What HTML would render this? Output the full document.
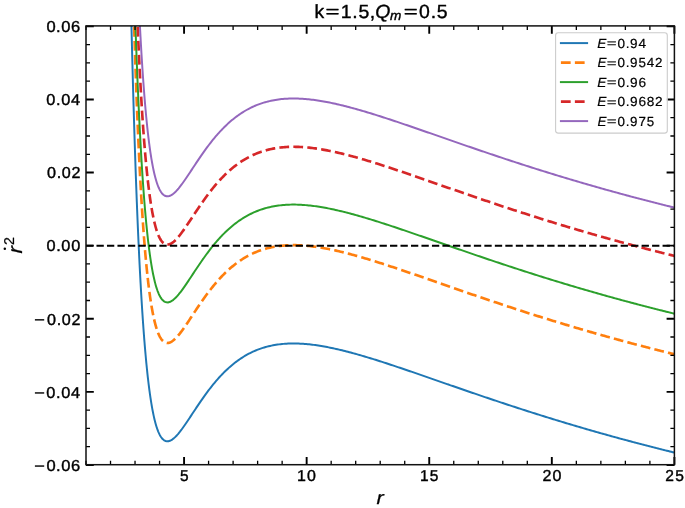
<!DOCTYPE html>
<html><head><meta charset="utf-8"><title>k=1.5, Q_m=0.5</title><style>
html,body{margin:0;padding:0;background:#fff;overflow:hidden;}
svg{display:block;will-change:transform;}
text{font-family:"Liberation Sans",sans-serif;fill:#000;stroke:#000;stroke-width:0.4px;stroke-linejoin:round;font-kerning:none;text-rendering:geometricPrecision;}
</style></head><body>
<svg width="685" height="508" viewBox="0 0 685 508">
<rect x="0" y="0" width="685" height="508" fill="#fff"/>
<defs><clipPath id="ax"><rect x="86.0" y="25.9" width="588.40" height="438.80"/></clipPath></defs>

<g clip-path="url(#ax)" fill="none" stroke-linejoin="round">
<path d="M130.82,-1.00 L130.86,0.51 L130.91,2.90 L130.97,5.28 L131.02,7.65 L131.08,10.01 L131.13,12.36 L131.19,14.69 L131.24,17.01 L131.30,19.33 L131.35,21.63 L131.41,23.92 L131.46,26.19 L131.52,28.46 L131.57,30.72 L131.63,32.96 L131.68,35.19 L131.74,37.42 L131.79,39.63 L131.85,41.83 L131.90,44.02 L131.96,46.20 L132.01,48.36 L132.06,50.52 L132.12,52.67 L132.17,54.81 L132.23,56.93 L132.28,59.05 L132.34,61.15 L132.39,63.25 L132.45,65.33 L132.50,67.40 L132.56,69.47 L132.61,71.52 L132.67,73.57 L132.72,75.60 L132.78,77.62 L132.83,79.64 L132.89,81.64 L132.94,83.63 L133.00,85.62 L133.05,87.59 L133.11,89.55 L133.16,91.51 L133.22,93.45 L133.27,95.39 L133.33,97.31 L133.38,99.23 L133.44,101.14 L133.49,103.03 L133.55,104.92 L133.60,106.80 L133.66,108.67 L133.71,110.53 L133.77,112.38 L133.82,114.22 L133.88,116.06 L133.93,117.88 L133.99,119.69 L134.04,121.50 L134.10,123.30 L134.15,125.08 L134.21,126.86 L134.26,128.63 L134.32,130.40 L134.37,132.15 L134.43,133.89 L134.48,135.63 L134.54,137.35 L134.59,139.07 L134.65,140.78 L134.70,142.48 L134.76,144.18 L134.81,145.86 L134.87,147.54 L134.92,149.21 L134.98,150.87 L135.03,152.52 L135.09,154.16 L135.14,155.80 L135.20,157.42 L135.25,159.04 L135.31,160.65 L135.36,162.25 L135.42,163.85 L135.47,165.44 L135.52,167.02 L135.58,168.59 L135.63,170.15 L135.69,171.71 L135.74,173.25 L135.80,174.79 L135.85,176.33 L135.91,177.85 L135.96,179.37 L136.02,180.88 L136.07,182.38 L136.16,184.62 L136.24,186.84 L136.32,189.05 L136.40,191.24 L136.49,193.41 L136.57,195.57 L136.65,197.71 L136.73,199.84 L136.82,201.95 L136.90,204.04 L136.98,206.12 L137.06,208.18 L137.15,210.23 L137.23,212.26 L137.31,214.27 L137.39,216.27 L137.47,218.26 L137.56,220.23 L137.64,222.19 L137.72,224.13 L137.80,226.06 L137.89,227.97 L137.97,229.87 L138.05,231.75 L138.13,233.62 L138.22,235.48 L138.30,237.32 L138.38,239.14 L138.46,240.96 L138.55,242.76 L138.63,244.55 L138.71,246.32 L138.79,248.08 L138.88,249.82 L138.96,251.56 L139.04,253.28 L139.12,254.98 L139.20,256.68 L139.29,258.36 L139.37,260.03 L139.45,261.68 L139.53,263.33 L139.62,264.96 L139.70,266.58 L139.78,268.18 L139.86,269.78 L139.95,271.36 L140.03,272.93 L140.11,274.48 L140.19,276.03 L140.28,277.56 L140.36,279.09 L140.44,280.60 L140.52,282.09 L140.63,284.07 L140.74,286.03 L140.85,287.97 L140.96,289.90 L141.07,291.80 L141.18,293.68 L141.29,295.54 L141.40,297.38 L141.51,299.20 L141.62,301.01 L141.73,302.80 L141.84,304.56 L141.95,306.31 L142.06,308.04 L142.17,309.76 L142.28,311.45 L142.39,313.13 L142.50,314.79 L142.61,316.44 L142.72,318.06 L142.83,319.67 L142.94,321.26 L143.05,322.84 L143.16,324.40 L143.27,325.94 L143.38,327.47 L143.49,328.98 L143.63,330.84 L143.76,332.68 L143.90,334.50 L144.04,336.29 L144.17,338.06 L144.31,339.81 L144.45,341.53 L144.59,343.23 L144.72,344.91 L144.86,346.56 L145.00,348.19 L145.14,349.80 L145.27,351.39 L145.41,352.96 L145.55,354.50 L145.69,356.03 L145.82,357.53 L145.99,359.31 L146.15,361.06 L146.32,362.78 L146.48,364.47 L146.65,366.14 L146.81,367.77 L146.98,369.38 L147.14,370.96 L147.31,372.52 L147.47,374.05 L147.63,375.55 L147.83,377.28 L148.02,378.97 L148.21,380.62 L148.40,382.25 L148.60,383.84 L148.79,385.39 L148.98,386.92 L149.17,388.42 L149.39,390.09 L149.61,391.72 L149.83,393.32 L150.05,394.88 L150.27,396.40 L150.49,397.88 L150.74,399.51 L150.99,401.09 L151.23,402.63 L151.48,404.13 L151.75,405.75 L152.03,407.31 L152.30,408.83 L152.61,410.44 L152.91,412.00 L153.21,413.50 L153.54,415.08 L153.87,416.59 L154.23,418.17 L154.58,419.67 L154.97,421.21 L155.35,422.68 L155.76,424.18 L156.20,425.68 L156.67,427.18 L157.16,428.66 L157.69,430.12 L158.23,431.53 L158.84,432.95 L159.50,434.34 L160.21,435.68 L161.01,436.97 L161.91,438.21 L162.93,439.33 L164.11,440.28 L165.46,440.98 L166.94,441.31 L168.45,441.23 L169.91,440.81 L171.28,440.14 L172.54,439.32 L173.75,438.38 L174.88,437.38 L175.95,436.32 L176.99,435.21 L178.01,434.05 L178.99,432.87 L179.96,431.67 L180.89,430.46 L181.80,429.25 L182.70,428.01 L183.58,426.79 L184.46,425.54 L185.34,424.27 L186.19,423.03 L187.04,421.77 L187.89,420.51 L188.74,419.23 L189.59,417.95 L190.45,416.66 L191.30,415.37 L192.15,414.08 L193.00,412.79 L193.85,411.50 L194.70,410.21 L195.55,408.93 L196.40,407.65 L197.26,406.38 L198.11,405.11 L198.96,403.85 L199.81,402.60 L200.66,401.36 L201.54,400.08 L202.42,398.82 L203.30,397.57 L204.18,396.34 L205.05,395.11 L205.96,393.86 L206.87,392.63 L207.77,391.41 L208.68,390.21 L209.61,388.99 L210.55,387.78 L211.48,386.59 L212.44,385.39 L213.40,384.20 L214.36,383.03 L215.35,381.85 L216.34,380.69 L217.33,379.55 L218.35,378.40 L219.36,377.28 L220.38,376.17 L221.42,375.06 L222.46,373.97 L223.54,372.88 L224.61,371.81 L225.70,370.74 L226.80,369.69 L227.93,368.65 L229.06,367.63 L230.18,366.64 L231.33,365.64 L232.49,364.68 L233.67,363.72 L234.85,362.79 L236.06,361.87 L237.27,360.97 L238.50,360.08 L239.74,359.22 L241.00,358.37 L242.26,357.55 L243.55,356.74 L244.84,355.97 L246.16,355.20 L247.48,354.46 L248.83,353.74 L250.17,353.05 L251.55,352.38 L252.92,351.73 L254.29,351.11 L255.69,350.52 L257.09,349.95 L258.49,349.40 L259.92,348.88 L261.35,348.39 L262.78,347.92 L264.23,347.47 L265.69,347.05 L267.14,346.66 L268.60,346.29 L270.08,345.94 L271.56,345.62 L273.05,345.32 L274.53,345.05 L276.01,344.80 L277.52,344.57 L279.03,344.36 L280.54,344.18 L282.05,344.02 L283.56,343.88 L285.07,343.77 L286.58,343.67 L288.09,343.59 L289.61,343.54 L291.12,343.50 L292.63,343.48 L294.14,343.48 L295.65,343.49 L297.16,343.53 L298.67,343.58 L300.18,343.64 L301.69,343.72 L303.20,343.82 L304.71,343.93 L306.22,344.05 L307.73,344.19 L309.24,344.35 L310.75,344.51 L312.26,344.69 L313.77,344.88 L315.28,345.09 L316.79,345.30 L318.30,345.53 L319.78,345.76 L321.27,346.00 L322.75,346.26 L324.23,346.52 L325.72,346.79 L327.20,347.07 L328.68,347.36 L330.16,347.66 L331.65,347.97 L333.13,348.28 L334.61,348.61 L336.10,348.94 L337.58,349.27 L339.06,349.62 L340.54,349.97 L342.03,350.33 L343.51,350.70 L344.97,351.06 L346.42,351.43 L347.88,351.81 L349.33,352.19 L350.79,352.58 L352.24,352.97 L353.70,353.36 L355.15,353.77 L356.61,354.17 L358.06,354.58 L359.52,355.00 L360.97,355.42 L362.43,355.84 L363.89,356.27 L365.34,356.70 L366.80,357.14 L368.25,357.58 L369.71,358.02 L371.16,358.47 L372.62,358.92 L374.07,359.37 L375.53,359.82 L376.98,360.28 L378.44,360.74 L379.90,361.20 L381.35,361.67 L382.81,362.14 L384.23,362.60 L385.66,363.06 L387.09,363.53 L388.52,364.00 L389.95,364.47 L391.37,364.94 L392.80,365.41 L394.23,365.89 L395.66,366.36 L397.09,366.84 L398.51,367.32 L399.94,367.80 L401.37,368.28 L402.80,368.77 L404.22,369.25 L405.65,369.74 L407.08,370.22 L408.51,370.71 L409.94,371.20 L411.36,371.69 L412.79,372.18 L414.22,372.67 L415.65,373.16 L417.08,373.65 L418.50,374.15 L419.93,374.64 L421.36,375.13 L422.79,375.63 L424.22,376.12 L425.64,376.62 L427.07,377.12 L428.50,377.61 L429.93,378.11 L431.36,378.60 L432.78,379.10 L434.21,379.60 L435.64,380.09 L437.07,380.59 L438.50,381.09 L439.92,381.59 L441.35,382.08 L442.78,382.58 L444.21,383.08 L445.64,383.57 L447.06,384.07 L448.49,384.56 L449.92,385.06 L451.35,385.56 L452.78,386.05 L454.20,386.55 L455.63,387.04 L457.06,387.54 L458.49,388.03 L459.91,388.52 L461.34,389.02 L462.77,389.51 L464.20,390.00 L465.63,390.50 L467.05,390.99 L468.48,391.48 L469.91,391.97 L471.34,392.46 L472.77,392.95 L474.19,393.44 L475.62,393.92 L477.05,394.41 L478.48,394.90 L479.91,395.38 L481.33,395.87 L482.76,396.35 L484.19,396.84 L485.62,397.32 L487.05,397.80 L488.47,398.28 L489.90,398.77 L491.33,399.25 L492.76,399.73 L494.19,400.20 L495.61,400.68 L497.04,401.16 L498.47,401.63 L499.90,402.11 L501.33,402.58 L502.75,403.06 L504.18,403.53 L505.61,404.00 L507.04,404.47 L508.46,404.94 L509.89,405.41 L511.32,405.88 L512.75,406.35 L514.18,406.81 L515.60,407.28 L517.03,407.74 L518.46,408.21 L519.89,408.67 L521.32,409.13 L522.74,409.59 L524.17,410.05 L525.63,410.52 L527.08,410.99 L528.54,411.45 L529.99,411.92 L531.45,412.38 L532.90,412.84 L534.36,413.30 L535.82,413.76 L537.27,414.22 L538.73,414.68 L540.18,415.14 L541.64,415.59 L543.09,416.05 L544.55,416.50 L546.00,416.95 L547.46,417.41 L548.91,417.86 L550.37,418.31 L551.82,418.75 L553.28,419.20 L554.74,419.65 L556.19,420.09 L557.65,420.54 L559.10,420.98 L560.56,421.42 L562.01,421.86 L563.47,422.30 L564.92,422.74 L566.38,423.18 L567.83,423.61 L569.29,424.05 L570.74,424.48 L572.20,424.91 L573.66,425.35 L575.11,425.78 L576.57,426.21 L578.02,426.64 L579.48,427.06 L580.93,427.49 L582.39,427.91 L583.84,428.34 L585.30,428.76 L586.75,429.18 L588.21,429.60 L589.67,430.02 L591.12,430.44 L592.58,430.86 L594.03,431.27 L595.49,431.69 L596.94,432.10 L598.40,432.52 L599.85,432.93 L601.31,433.34 L602.76,433.75 L604.22,434.16 L605.67,434.56 L607.13,434.97 L608.59,435.38 L610.04,435.78 L611.50,436.18 L612.95,436.58 L614.41,436.99 L615.86,437.38 L617.32,437.78 L618.77,438.18 L620.23,438.58 L621.68,438.97 L623.14,439.37 L624.59,439.76 L626.05,440.15 L627.51,440.54 L628.96,440.93 L630.42,441.32 L631.87,441.71 L633.33,442.10 L634.78,442.48 L636.24,442.87 L637.69,443.25 L639.15,443.63 L640.60,444.01 L642.06,444.39 L643.52,444.77 L644.97,445.15 L646.43,445.53 L647.88,445.91 L649.34,446.28 L650.79,446.65 L652.25,447.03 L653.70,447.40 L655.16,447.77 L656.61,448.14 L658.07,448.51 L659.52,448.88 L660.98,449.24 L662.44,449.61 L663.89,449.97 L665.35,450.34 L666.83,450.71 L668.31,451.08 L669.79,451.44 L671.28,451.81 L672.76,452.18 L674.24,452.54 L674.41,452.58" stroke="#1f77b4" stroke-width="1.978"/>
<path d="M133.33,-1.00 L133.38,0.92 L133.44,2.83 L133.49,4.72 L133.55,6.61 L133.60,8.49 L133.66,10.36 L133.71,12.22 L133.77,14.07 L133.82,15.91 L133.88,17.75 L133.93,19.57 L133.99,21.38 L134.04,23.19 L134.10,24.99 L134.15,26.77 L134.21,28.55 L134.26,30.32 L134.32,32.08 L134.37,33.84 L134.43,35.58 L134.48,37.32 L134.54,39.04 L134.59,40.76 L134.65,42.47 L134.70,44.17 L134.76,45.87 L134.81,47.55 L134.87,49.23 L134.92,50.89 L134.98,52.55 L135.03,54.21 L135.09,55.85 L135.14,57.48 L135.20,59.11 L135.25,60.73 L135.31,62.34 L135.36,63.94 L135.42,65.54 L135.47,67.13 L135.52,68.70 L135.58,70.28 L135.63,71.84 L135.69,73.40 L135.74,74.94 L135.80,76.48 L135.85,78.02 L135.91,79.54 L135.96,81.06 L136.02,82.57 L136.07,84.07 L136.16,86.31 L136.24,88.53 L136.32,90.74 L136.40,92.93 L136.49,95.10 L136.57,97.26 L136.65,99.40 L136.73,101.53 L136.82,103.63 L136.90,105.73 L136.98,107.81 L137.06,109.87 L137.15,111.91 L137.23,113.95 L137.31,115.96 L137.39,117.96 L137.47,119.95 L137.56,121.92 L137.64,123.88 L137.72,125.82 L137.80,127.75 L137.89,129.66 L137.97,131.56 L138.05,133.44 L138.13,135.31 L138.22,137.16 L138.30,139.01 L138.38,140.83 L138.46,142.65 L138.55,144.45 L138.63,146.23 L138.71,148.01 L138.79,149.77 L138.88,151.51 L138.96,153.25 L139.04,154.97 L139.12,156.67 L139.20,158.37 L139.29,160.05 L139.37,161.72 L139.45,163.37 L139.53,165.02 L139.62,166.65 L139.70,168.27 L139.78,169.87 L139.86,171.46 L139.95,173.05 L140.03,174.62 L140.11,176.17 L140.19,177.72 L140.28,179.25 L140.36,180.77 L140.44,182.28 L140.52,183.78 L140.63,185.76 L140.74,187.72 L140.85,189.66 L140.96,191.58 L141.07,193.48 L141.18,195.37 L141.29,197.23 L141.40,199.07 L141.51,200.89 L141.62,202.70 L141.73,204.48 L141.84,206.25 L141.95,208.00 L142.06,209.73 L142.17,211.45 L142.28,213.14 L142.39,214.82 L142.50,216.48 L142.61,218.12 L142.72,219.75 L142.83,221.36 L142.94,222.95 L143.05,224.53 L143.16,226.09 L143.27,227.63 L143.38,229.16 L143.49,230.67 L143.63,232.53 L143.76,234.37 L143.90,236.19 L144.04,237.98 L144.17,239.75 L144.31,241.50 L144.45,243.22 L144.59,244.92 L144.72,246.60 L144.86,248.25 L145.00,249.88 L145.14,251.49 L145.27,253.08 L145.41,254.65 L145.55,256.19 L145.69,257.72 L145.82,259.22 L145.99,261.00 L146.15,262.75 L146.32,264.47 L146.48,266.16 L146.65,267.83 L146.81,269.46 L146.98,271.07 L147.14,272.65 L147.31,274.21 L147.47,275.74 L147.63,277.24 L147.83,278.97 L148.02,280.66 L148.21,282.31 L148.40,283.93 L148.60,285.52 L148.79,287.08 L148.98,288.61 L149.17,290.11 L149.39,291.78 L149.61,293.41 L149.83,295.01 L150.05,296.57 L150.27,298.09 L150.49,299.57 L150.74,301.20 L150.99,302.78 L151.23,304.32 L151.48,305.82 L151.75,307.44 L152.03,309.00 L152.30,310.52 L152.61,312.13 L152.91,313.69 L153.21,315.19 L153.54,316.77 L153.87,318.28 L154.23,319.85 L154.58,321.36 L154.97,322.90 L155.35,324.37 L155.76,325.86 L156.20,327.37 L156.67,328.87 L157.16,330.35 L157.69,331.81 L158.23,333.22 L158.84,334.63 L159.50,336.03 L160.21,337.37 L161.01,338.66 L161.91,339.90 L162.93,341.01 L164.11,341.97 L165.46,342.67 L166.94,343.00 L168.45,342.92 L169.91,342.50 L171.28,341.83 L172.54,341.01 L173.75,340.07 L174.88,339.06 L175.95,338.01 L176.99,336.90 L178.01,335.74 L178.99,334.56 L179.96,333.36 L180.89,332.15 L181.80,330.94 L182.70,329.70 L183.58,328.48 L184.46,327.23 L185.34,325.96 L186.19,324.72 L187.04,323.46 L187.89,322.20 L188.74,320.92 L189.59,319.64 L190.45,318.35 L191.30,317.06 L192.15,315.77 L193.00,314.48 L193.85,313.19 L194.70,311.90 L195.55,310.62 L196.40,309.34 L197.26,308.06 L198.11,306.80 L198.96,305.54 L199.81,304.29 L200.66,303.04 L201.54,301.77 L202.42,300.51 L203.30,299.26 L204.18,298.03 L205.05,296.80 L205.96,295.55 L206.87,294.32 L207.77,293.10 L208.68,291.90 L209.61,290.67 L210.55,289.47 L211.48,288.28 L212.44,287.07 L213.40,285.89 L214.36,284.72 L215.35,283.54 L216.34,282.38 L217.33,281.24 L218.35,280.09 L219.36,278.97 L220.38,277.86 L221.42,276.75 L222.46,275.66 L223.54,274.57 L224.61,273.50 L225.70,272.43 L226.80,271.38 L227.93,270.34 L229.06,269.32 L230.18,268.32 L231.33,267.33 L232.49,266.37 L233.67,265.41 L234.85,264.48 L236.06,263.55 L237.27,262.66 L238.50,261.77 L239.74,260.91 L241.00,260.06 L242.26,259.24 L243.55,258.43 L244.84,257.65 L246.16,256.89 L247.48,256.15 L248.83,255.43 L250.17,254.74 L251.55,254.07 L252.92,253.42 L254.29,252.80 L255.69,252.20 L257.09,251.63 L258.49,251.09 L259.92,250.57 L261.35,250.08 L262.78,249.61 L264.23,249.16 L265.69,248.74 L267.14,248.35 L268.60,247.98 L270.08,247.63 L271.56,247.31 L273.05,247.01 L274.53,246.74 L276.01,246.49 L277.52,246.26 L279.03,246.05 L280.54,245.87 L282.05,245.71 L283.56,245.57 L285.07,245.46 L286.58,245.36 L288.09,245.28 L289.61,245.22 L291.12,245.19 L292.63,245.17 L294.14,245.17 L295.65,245.18 L297.16,245.21 L298.67,245.26 L300.18,245.33 L301.69,245.41 L303.20,245.51 L304.71,245.62 L306.22,245.74 L307.73,245.88 L309.24,246.04 L310.75,246.20 L312.26,246.38 L313.77,246.57 L315.28,246.77 L316.79,246.99 L318.30,247.22 L319.78,247.45 L321.27,247.69 L322.75,247.94 L324.23,248.21 L325.72,248.48 L327.20,248.76 L328.68,249.05 L330.16,249.35 L331.65,249.66 L333.13,249.97 L334.61,250.29 L336.10,250.63 L337.58,250.96 L339.06,251.31 L340.54,251.66 L342.03,252.02 L343.51,252.38 L344.97,252.75 L346.42,253.12 L347.88,253.50 L349.33,253.88 L350.79,254.26 L352.24,254.66 L353.70,255.05 L355.15,255.46 L356.61,255.86 L358.06,256.27 L359.52,256.69 L360.97,257.11 L362.43,257.53 L363.89,257.96 L365.34,258.39 L366.80,258.83 L368.25,259.27 L369.71,259.71 L371.16,260.16 L372.62,260.60 L374.07,261.06 L375.53,261.51 L376.98,261.97 L378.44,262.43 L379.90,262.89 L381.35,263.36 L382.81,263.83 L384.23,264.29 L385.66,264.75 L387.09,265.22 L388.52,265.69 L389.95,266.16 L391.37,266.63 L392.80,267.10 L394.23,267.58 L395.66,268.05 L397.09,268.53 L398.51,269.01 L399.94,269.49 L401.37,269.97 L402.80,270.46 L404.22,270.94 L405.65,271.43 L407.08,271.91 L408.51,272.40 L409.94,272.89 L411.36,273.38 L412.79,273.87 L414.22,274.36 L415.65,274.85 L417.08,275.34 L418.50,275.84 L419.93,276.33 L421.36,276.82 L422.79,277.32 L424.22,277.81 L425.64,278.31 L427.07,278.80 L428.50,279.30 L429.93,279.80 L431.36,280.29 L432.78,280.79 L434.21,281.29 L435.64,281.78 L437.07,282.28 L438.50,282.78 L439.92,283.27 L441.35,283.77 L442.78,284.27 L444.21,284.76 L445.64,285.26 L447.06,285.76 L448.49,286.25 L449.92,286.75 L451.35,287.25 L452.78,287.74 L454.20,288.24 L455.63,288.73 L457.06,289.23 L458.49,289.72 L459.91,290.21 L461.34,290.71 L462.77,291.20 L464.20,291.69 L465.63,292.18 L467.05,292.68 L468.48,293.17 L469.91,293.66 L471.34,294.15 L472.77,294.64 L474.19,295.12 L475.62,295.61 L477.05,296.10 L478.48,296.59 L479.91,297.07 L481.33,297.56 L482.76,298.04 L484.19,298.53 L485.62,299.01 L487.05,299.49 L488.47,299.97 L489.90,300.45 L491.33,300.94 L492.76,301.41 L494.19,301.89 L495.61,302.37 L497.04,302.85 L498.47,303.32 L499.90,303.80 L501.33,304.27 L502.75,304.75 L504.18,305.22 L505.61,305.69 L507.04,306.16 L508.46,306.63 L509.89,307.10 L511.32,307.57 L512.75,308.04 L514.18,308.50 L515.60,308.97 L517.03,309.43 L518.46,309.90 L519.89,310.36 L521.32,310.82 L522.74,311.28 L524.17,311.74 L525.63,312.21 L527.08,312.67 L528.54,313.14 L529.99,313.60 L531.45,314.07 L532.90,314.53 L534.36,314.99 L535.82,315.45 L537.27,315.91 L538.73,316.37 L540.18,316.83 L541.64,317.28 L543.09,317.74 L544.55,318.19 L546.00,318.64 L547.46,319.09 L548.91,319.55 L550.37,319.99 L551.82,320.44 L553.28,320.89 L554.74,321.34 L556.19,321.78 L557.65,322.23 L559.10,322.67 L560.56,323.11 L562.01,323.55 L563.47,323.99 L564.92,324.43 L566.38,324.87 L567.83,325.30 L569.29,325.74 L570.74,326.17 L572.20,326.60 L573.66,327.04 L575.11,327.47 L576.57,327.90 L578.02,328.32 L579.48,328.75 L580.93,329.18 L582.39,329.60 L583.84,330.03 L585.30,330.45 L586.75,330.87 L588.21,331.29 L589.67,331.71 L591.12,332.13 L592.58,332.55 L594.03,332.96 L595.49,333.38 L596.94,333.79 L598.40,334.21 L599.85,334.62 L601.31,335.03 L602.76,335.44 L604.22,335.85 L605.67,336.25 L607.13,336.66 L608.59,337.06 L610.04,337.47 L611.50,337.87 L612.95,338.27 L614.41,338.67 L615.86,339.07 L617.32,339.47 L618.77,339.87 L620.23,340.27 L621.68,340.66 L623.14,341.06 L624.59,341.45 L626.05,341.84 L627.51,342.23 L628.96,342.62 L630.42,343.01 L631.87,343.40 L633.33,343.79 L634.78,344.17 L636.24,344.56 L637.69,344.94 L639.15,345.32 L640.60,345.70 L642.06,346.08 L643.52,346.46 L644.97,346.84 L646.43,347.22 L647.88,347.59 L649.34,347.97 L650.79,348.34 L652.25,348.72 L653.70,349.09 L655.16,349.46 L656.61,349.83 L658.07,350.20 L659.52,350.57 L660.98,350.93 L662.44,351.30 L663.89,351.66 L665.35,352.03 L666.83,352.40 L668.31,352.77 L669.79,353.13 L671.28,353.50 L672.76,353.86 L674.24,354.23 L674.41,354.27" stroke="#ff7f0e" stroke-width="2.635" stroke-dasharray="9.753,4.217"/>
<path d="M134.55,-1.00 L134.62,1.04 L134.67,2.74 L134.73,4.44 L134.78,6.13 L134.84,7.81 L134.89,9.48 L134.95,11.15 L135.00,12.80 L135.06,14.45 L135.11,16.09 L135.17,17.72 L135.22,19.34 L135.28,20.96 L135.33,22.56 L135.39,24.16 L135.44,25.75 L135.50,27.34 L135.55,28.91 L135.61,30.48 L135.66,32.04 L135.72,33.59 L135.77,35.14 L135.83,36.67 L135.88,38.20 L135.94,39.72 L135.99,41.24 L136.05,42.74 L136.13,44.99 L136.21,47.21 L136.29,49.43 L136.38,51.62 L136.46,53.80 L136.54,55.96 L136.62,58.11 L136.71,60.24 L136.79,62.35 L136.87,64.45 L136.95,66.54 L137.04,68.60 L137.12,70.65 L137.20,72.69 L137.28,74.71 L137.36,76.72 L137.45,78.71 L137.53,80.69 L137.61,82.65 L137.69,84.59 L137.78,86.53 L137.86,88.44 L137.94,90.35 L138.02,92.23 L138.11,94.11 L138.19,95.97 L138.27,97.81 L138.35,99.65 L138.44,101.47 L138.52,103.27 L138.60,105.06 L138.68,106.84 L138.77,108.60 L138.85,110.35 L138.93,112.09 L139.01,113.82 L139.09,115.53 L139.18,117.23 L139.26,118.91 L139.34,120.58 L139.42,122.24 L139.51,123.89 L139.59,125.53 L139.67,127.15 L139.75,128.76 L139.84,130.36 L139.92,131.94 L140.00,133.51 L140.08,135.08 L140.17,136.63 L140.25,138.16 L140.33,139.69 L140.41,141.20 L140.50,142.71 L140.61,144.69 L140.71,146.66 L140.82,148.60 L140.93,150.53 L141.04,152.43 L141.15,154.32 L141.26,156.18 L141.37,158.03 L141.48,159.86 L141.59,161.67 L141.70,163.46 L141.81,165.23 L141.92,166.99 L142.03,168.72 L142.14,170.44 L142.25,172.14 L142.36,173.82 L142.47,175.49 L142.58,177.14 L142.69,178.77 L142.80,180.38 L142.91,181.98 L143.02,183.56 L143.13,185.12 L143.24,186.67 L143.35,188.20 L143.46,189.71 L143.57,191.21 L143.71,193.06 L143.85,194.89 L143.98,196.69 L144.12,198.47 L144.26,200.22 L144.39,201.95 L144.53,203.66 L144.67,205.35 L144.81,207.01 L144.94,208.65 L145.08,210.27 L145.22,211.87 L145.36,213.44 L145.49,215.00 L145.63,216.53 L145.77,218.04 L145.93,219.83 L146.10,221.59 L146.26,223.32 L146.43,225.02 L146.59,226.69 L146.76,228.34 L146.92,229.96 L147.09,231.55 L147.25,233.11 L147.42,234.65 L147.58,236.17 L147.77,237.90 L147.96,239.60 L148.16,241.26 L148.35,242.89 L148.54,244.49 L148.73,246.06 L148.93,247.60 L149.12,249.10 L149.34,250.79 L149.56,252.43 L149.78,254.03 L150.00,255.60 L150.22,257.13 L150.44,258.62 L150.68,260.26 L150.93,261.86 L151.18,263.41 L151.42,264.91 L151.70,266.54 L151.97,268.11 L152.25,269.64 L152.52,271.12 L152.82,272.69 L153.13,274.21 L153.46,275.80 L153.79,277.33 L154.12,278.80 L154.47,280.32 L154.86,281.89 L155.24,283.38 L155.65,284.90 L156.09,286.42 L156.53,287.86 L157.00,289.29 L157.52,290.78 L158.07,292.23 L158.65,293.62 L159.28,295.00 L159.96,296.34 L160.73,297.66 L161.58,298.90 L162.57,300.08 L163.70,301.10 L164.99,301.89 L166.45,302.35 L167.96,302.41 L169.44,302.09 L170.84,301.49 L172.13,300.72 L173.34,299.83 L174.49,298.84 L175.59,297.79 L176.63,296.71 L177.65,295.57 L178.64,294.41 L179.60,293.23 L180.53,292.04 L181.47,290.81 L182.37,289.58 L183.25,288.36 L184.13,287.12 L185.01,285.86 L185.86,284.62 L186.71,283.37 L187.56,282.11 L188.41,280.84 L189.26,279.56 L190.12,278.27 L190.97,276.98 L191.82,275.69 L192.67,274.40 L193.52,273.11 L194.37,271.82 L195.22,270.54 L196.08,269.25 L196.93,267.98 L197.78,266.71 L198.63,265.45 L199.48,264.19 L200.33,262.95 L201.18,261.71 L202.06,260.44 L202.94,259.19 L203.82,257.95 L204.70,256.72 L205.58,255.50 L206.48,254.26 L207.39,253.04 L208.29,251.83 L209.23,250.60 L210.16,249.38 L211.10,248.19 L212.03,247.01 L212.99,245.82 L213.95,244.64 L214.91,243.48 L215.90,242.32 L216.89,241.17 L217.91,240.01 L218.92,238.87 L219.94,237.76 L220.98,236.64 L222.03,235.54 L223.10,234.43 L224.17,233.36 L225.24,232.30 L226.34,231.24 L227.43,230.21 L228.56,229.18 L229.69,228.18 L230.84,227.18 L231.99,226.20 L233.17,225.23 L234.35,224.29 L235.56,223.35 L236.77,222.44 L238.01,221.54 L239.24,220.67 L240.51,219.81 L241.77,218.98 L243.06,218.16 L244.35,217.37 L245.67,216.59 L246.99,215.85 L248.30,215.13 L249.65,214.43 L251.00,213.75 L252.37,213.10 L253.74,212.47 L255.14,211.86 L256.54,211.28 L257.94,210.72 L259.37,210.19 L260.80,209.68 L262.23,209.21 L263.68,208.75 L265.14,208.32 L266.59,207.91 L268.05,207.53 L269.53,207.18 L271.01,206.84 L272.50,206.54 L273.98,206.26 L275.46,206.00 L276.95,205.76 L278.46,205.55 L279.97,205.36 L281.48,205.19 L282.99,205.04 L284.50,204.92 L286.01,204.81 L287.52,204.73 L289.03,204.67 L290.54,204.62 L292.05,204.59 L293.56,204.59 L295.07,204.59 L296.58,204.62 L298.09,204.66 L299.60,204.72 L301.11,204.80 L302.62,204.89 L304.13,205.00 L305.64,205.12 L307.15,205.25 L308.66,205.40 L310.17,205.56 L311.68,205.73 L313.19,205.92 L314.70,206.12 L316.21,206.33 L317.72,206.55 L319.21,206.78 L320.69,207.02 L322.17,207.27 L323.66,207.52 L325.14,207.79 L326.62,208.07 L328.10,208.36 L329.59,208.65 L331.07,208.96 L332.55,209.27 L334.04,209.59 L335.52,209.92 L337.00,210.25 L338.48,210.59 L339.97,210.94 L341.45,211.30 L342.93,211.66 L344.42,212.03 L345.87,212.40 L347.33,212.77 L348.78,213.15 L350.24,213.54 L351.69,213.93 L353.15,214.32 L354.60,214.72 L356.06,215.13 L357.51,215.54 L358.97,215.95 L360.43,216.37 L361.88,216.79 L363.34,217.22 L364.79,217.65 L366.25,218.08 L367.70,218.52 L369.16,218.96 L370.61,219.41 L372.07,219.86 L373.52,220.31 L374.98,220.76 L376.44,221.22 L377.89,221.68 L379.35,222.14 L380.80,222.60 L382.26,223.07 L383.68,223.53 L385.11,223.99 L386.54,224.46 L387.97,224.93 L389.40,225.40 L390.82,225.87 L392.25,226.34 L393.68,226.81 L395.11,227.29 L396.54,227.77 L397.96,228.25 L399.39,228.73 L400.82,229.21 L402.25,229.69 L403.68,230.17 L405.10,230.66 L406.53,231.15 L407.96,231.63 L409.39,232.12 L410.82,232.61 L412.24,233.10 L413.67,233.59 L415.10,234.08 L416.53,234.57 L417.96,235.07 L419.38,235.56 L420.81,236.05 L422.24,236.55 L423.67,237.04 L425.09,237.54 L426.52,238.03 L427.95,238.53 L429.38,239.03 L430.81,239.52 L432.23,240.02 L433.66,240.52 L435.09,241.01 L436.52,241.51 L437.95,242.01 L439.37,242.50 L440.80,243.00 L442.23,243.50 L443.66,243.99 L445.09,244.49 L446.51,244.99 L447.94,245.48 L449.37,245.98 L450.80,246.48 L452.23,246.97 L453.65,247.47 L455.08,247.96 L456.51,248.46 L457.94,248.95 L459.37,249.44 L460.79,249.94 L462.22,250.43 L463.65,250.92 L465.08,251.42 L466.51,251.91 L467.93,252.40 L469.36,252.89 L470.79,253.38 L472.22,253.87 L473.64,254.36 L475.07,254.85 L476.50,255.33 L477.93,255.82 L479.36,256.31 L480.78,256.79 L482.21,257.28 L483.64,257.76 L485.07,258.24 L486.50,258.73 L487.92,259.21 L489.35,259.69 L490.78,260.17 L492.21,260.65 L493.64,261.13 L495.06,261.61 L496.49,262.09 L497.92,262.56 L499.35,263.04 L500.78,263.51 L502.20,263.99 L503.63,264.46 L505.06,264.93 L506.49,265.40 L507.92,265.87 L509.34,266.34 L510.77,266.81 L512.20,267.28 L513.63,267.75 L515.06,268.21 L516.48,268.68 L517.91,269.14 L519.34,269.60 L520.77,270.06 L522.19,270.53 L523.62,270.99 L525.08,271.45 L526.53,271.92 L527.99,272.39 L529.44,272.85 L530.90,273.31 L532.36,273.78 L533.81,274.24 L535.27,274.70 L536.72,275.16 L538.18,275.62 L539.63,276.07 L541.09,276.53 L542.54,276.99 L544.00,277.44 L545.45,277.89 L546.91,278.35 L548.36,278.80 L549.82,279.25 L551.28,279.69 L552.73,280.14 L554.19,280.59 L555.64,281.03 L557.10,281.48 L558.55,281.92 L560.01,282.36 L561.46,282.81 L562.92,283.25 L564.37,283.68 L565.83,284.12 L567.28,284.56 L568.74,284.99 L570.20,285.43 L571.65,285.86 L573.11,286.29 L574.56,286.72 L576.02,287.15 L577.47,287.58 L578.93,288.01 L580.38,288.44 L581.84,288.86 L583.29,289.29 L584.75,289.71 L586.21,290.13 L587.66,290.55 L589.12,290.97 L590.57,291.39 L592.03,291.81 L593.48,292.23 L594.94,292.64 L596.39,293.06 L597.85,293.47 L599.30,293.88 L600.76,294.29 L602.21,294.70 L603.67,295.11 L605.13,295.52 L606.58,295.93 L608.04,296.33 L609.49,296.74 L610.95,297.14 L612.40,297.54 L613.86,297.94 L615.31,298.34 L616.77,298.74 L618.22,299.14 L619.68,299.54 L621.13,299.93 L622.59,300.33 L624.05,300.72 L625.50,301.11 L626.96,301.51 L628.41,301.90 L629.87,302.29 L631.32,302.67 L632.78,303.06 L634.23,303.45 L635.69,303.83 L637.14,304.22 L638.60,304.60 L640.06,304.98 L641.51,305.36 L642.97,305.74 L644.42,306.12 L645.88,306.50 L647.33,306.87 L648.79,307.25 L650.24,307.62 L651.70,308.00 L653.15,308.37 L654.61,308.74 L656.06,309.11 L657.52,309.48 L658.98,309.85 L660.43,310.22 L661.89,310.58 L663.34,310.95 L664.80,311.31 L666.25,311.67 L667.74,312.04 L669.22,312.41 L670.70,312.78 L672.18,313.14 L673.67,313.51 L674.41,313.69" stroke="#2ca02c" stroke-width="1.978"/>
<path d="M136.57,-1.00 L136.65,1.03 L136.73,3.16 L136.82,5.27 L136.90,7.36 L136.98,9.44 L137.06,11.50 L137.15,13.55 L137.23,15.58 L137.31,17.59 L137.39,19.59 L137.47,21.58 L137.56,23.55 L137.64,25.51 L137.72,27.45 L137.80,29.38 L137.89,31.29 L137.97,33.19 L138.05,35.07 L138.13,36.94 L138.22,38.80 L138.30,40.64 L138.38,42.46 L138.46,44.28 L138.55,46.08 L138.63,47.87 L138.71,49.64 L138.79,51.40 L138.88,53.14 L138.96,54.88 L139.04,56.60 L139.12,58.30 L139.20,60.00 L139.29,61.68 L139.37,63.35 L139.45,65.00 L139.53,66.65 L139.62,68.28 L139.70,69.90 L139.78,71.50 L139.86,73.10 L139.95,74.68 L140.03,76.25 L140.11,77.80 L140.19,79.35 L140.28,80.88 L140.36,82.41 L140.44,83.92 L140.52,85.41 L140.63,87.39 L140.74,89.35 L140.85,91.29 L140.96,93.22 L141.07,95.12 L141.18,97.00 L141.29,98.86 L141.40,100.70 L141.51,102.52 L141.62,104.33 L141.73,106.12 L141.84,107.88 L141.95,109.63 L142.06,111.36 L142.17,113.08 L142.28,114.77 L142.39,116.45 L142.50,118.11 L142.61,119.76 L142.72,121.38 L142.83,122.99 L142.94,124.58 L143.05,126.16 L143.16,127.72 L143.27,129.26 L143.38,130.79 L143.49,132.30 L143.63,134.16 L143.76,136.00 L143.90,137.82 L144.04,139.61 L144.17,141.38 L144.31,143.13 L144.45,144.85 L144.59,146.55 L144.72,148.23 L144.86,149.88 L145.00,151.51 L145.14,153.12 L145.27,154.71 L145.41,156.28 L145.55,157.82 L145.69,159.35 L145.82,160.85 L145.99,162.63 L146.15,164.38 L146.32,166.10 L146.48,167.79 L146.65,169.46 L146.81,171.09 L146.98,172.70 L147.14,174.28 L147.31,175.84 L147.47,177.37 L147.63,178.87 L147.83,180.60 L148.02,182.29 L148.21,183.94 L148.40,185.57 L148.60,187.16 L148.79,188.71 L148.98,190.24 L149.17,191.74 L149.39,193.41 L149.61,195.04 L149.83,196.64 L150.05,198.20 L150.27,199.72 L150.49,201.20 L150.74,202.83 L150.99,204.41 L151.23,205.95 L151.48,207.45 L151.75,209.07 L152.03,210.63 L152.30,212.15 L152.61,213.76 L152.91,215.32 L153.21,216.82 L153.54,218.40 L153.87,219.91 L154.23,221.49 L154.58,222.99 L154.97,224.53 L155.35,226.00 L155.76,227.50 L156.20,229.00 L156.67,230.50 L157.16,231.98 L157.69,233.44 L158.23,234.85 L158.84,236.27 L159.50,237.66 L160.21,239.00 L161.01,240.29 L161.91,241.53 L162.93,242.65 L164.11,243.60 L165.46,244.30 L166.94,244.63 L168.45,244.55 L169.91,244.13 L171.28,243.46 L172.54,242.64 L173.75,241.70 L174.88,240.70 L175.95,239.64 L176.99,238.53 L178.01,237.37 L178.99,236.19 L179.96,234.99 L180.89,233.78 L181.80,232.57 L182.70,231.33 L183.58,230.11 L184.46,228.86 L185.34,227.59 L186.19,226.35 L187.04,225.09 L187.89,223.83 L188.74,222.55 L189.59,221.27 L190.45,219.98 L191.30,218.69 L192.15,217.40 L193.00,216.11 L193.85,214.82 L194.70,213.53 L195.55,212.25 L196.40,210.97 L197.26,209.70 L198.11,208.43 L198.96,207.17 L199.81,205.92 L200.66,204.68 L201.54,203.40 L202.42,202.14 L203.30,200.89 L204.18,199.66 L205.05,198.43 L205.96,197.18 L206.87,195.95 L207.77,194.73 L208.68,193.53 L209.61,192.31 L210.55,191.10 L211.48,189.91 L212.44,188.71 L213.40,187.52 L214.36,186.35 L215.35,185.17 L216.34,184.01 L217.33,182.87 L218.35,181.72 L219.36,180.60 L220.38,179.49 L221.42,178.38 L222.46,177.29 L223.54,176.20 L224.61,175.13 L225.70,174.06 L226.80,173.01 L227.93,171.97 L229.06,170.95 L230.18,169.96 L231.33,168.96 L232.49,168.00 L233.67,167.04 L234.85,166.11 L236.06,165.19 L237.27,164.29 L238.50,163.40 L239.74,162.54 L241.00,161.69 L242.26,160.87 L243.55,160.06 L244.84,159.29 L246.16,158.52 L247.48,157.78 L248.83,157.06 L250.17,156.37 L251.55,155.70 L252.92,155.05 L254.29,154.43 L255.69,153.84 L257.09,153.27 L258.49,152.72 L259.92,152.20 L261.35,151.71 L262.78,151.24 L264.23,150.79 L265.69,150.37 L267.14,149.98 L268.60,149.61 L270.08,149.26 L271.56,148.94 L273.05,148.64 L274.53,148.37 L276.01,148.12 L277.52,147.89 L279.03,147.68 L280.54,147.50 L282.05,147.34 L283.56,147.20 L285.07,147.09 L286.58,146.99 L288.09,146.91 L289.61,146.86 L291.12,146.82 L292.63,146.80 L294.14,146.80 L295.65,146.81 L297.16,146.85 L298.67,146.90 L300.18,146.96 L301.69,147.04 L303.20,147.14 L304.71,147.25 L306.22,147.37 L307.73,147.51 L309.24,147.67 L310.75,147.83 L312.26,148.01 L313.77,148.20 L315.28,148.41 L316.79,148.62 L318.30,148.85 L319.78,149.08 L321.27,149.32 L322.75,149.58 L324.23,149.84 L325.72,150.11 L327.20,150.39 L328.68,150.68 L330.16,150.98 L331.65,151.29 L333.13,151.60 L334.61,151.93 L336.10,152.26 L337.58,152.59 L339.06,152.94 L340.54,153.29 L342.03,153.65 L343.51,154.02 L344.97,154.38 L346.42,154.75 L347.88,155.13 L349.33,155.51 L350.79,155.90 L352.24,156.29 L353.70,156.68 L355.15,157.09 L356.61,157.49 L358.06,157.90 L359.52,158.32 L360.97,158.74 L362.43,159.16 L363.89,159.59 L365.34,160.02 L366.80,160.46 L368.25,160.90 L369.71,161.34 L371.16,161.79 L372.62,162.24 L374.07,162.69 L375.53,163.14 L376.98,163.60 L378.44,164.06 L379.90,164.52 L381.35,164.99 L382.81,165.46 L384.23,165.92 L385.66,166.38 L387.09,166.85 L388.52,167.32 L389.95,167.79 L391.37,168.26 L392.80,168.73 L394.23,169.21 L395.66,169.68 L397.09,170.16 L398.51,170.64 L399.94,171.12 L401.37,171.60 L402.80,172.09 L404.22,172.57 L405.65,173.06 L407.08,173.54 L408.51,174.03 L409.94,174.52 L411.36,175.01 L412.79,175.50 L414.22,175.99 L415.65,176.48 L417.08,176.97 L418.50,177.47 L419.93,177.96 L421.36,178.45 L422.79,178.95 L424.22,179.44 L425.64,179.94 L427.07,180.44 L428.50,180.93 L429.93,181.43 L431.36,181.92 L432.78,182.42 L434.21,182.92 L435.64,183.41 L437.07,183.91 L438.50,184.41 L439.92,184.90 L441.35,185.40 L442.78,185.90 L444.21,186.40 L445.64,186.89 L447.06,187.39 L448.49,187.88 L449.92,188.38 L451.35,188.88 L452.78,189.37 L454.20,189.87 L455.63,190.36 L457.06,190.86 L458.49,191.35 L459.91,191.84 L461.34,192.34 L462.77,192.83 L464.20,193.32 L465.63,193.82 L467.05,194.31 L468.48,194.80 L469.91,195.29 L471.34,195.78 L472.77,196.27 L474.19,196.76 L475.62,197.24 L477.05,197.73 L478.48,198.22 L479.91,198.70 L481.33,199.19 L482.76,199.67 L484.19,200.16 L485.62,200.64 L487.05,201.12 L488.47,201.60 L489.90,202.09 L491.33,202.57 L492.76,203.05 L494.19,203.52 L495.61,204.00 L497.04,204.48 L498.47,204.95 L499.90,205.43 L501.33,205.90 L502.75,206.38 L504.18,206.85 L505.61,207.32 L507.04,207.79 L508.46,208.26 L509.89,208.73 L511.32,209.20 L512.75,209.67 L514.18,210.13 L515.60,210.60 L517.03,211.06 L518.46,211.53 L519.89,211.99 L521.32,212.45 L522.74,212.91 L524.17,213.37 L525.63,213.84 L527.08,214.31 L528.54,214.77 L529.99,215.24 L531.45,215.70 L532.90,216.16 L534.36,216.62 L535.82,217.08 L537.27,217.54 L538.73,218.00 L540.18,218.46 L541.64,218.91 L543.09,219.37 L544.55,219.82 L546.00,220.27 L547.46,220.73 L548.91,221.18 L550.37,221.63 L551.82,222.07 L553.28,222.52 L554.74,222.97 L556.19,223.41 L557.65,223.86 L559.10,224.30 L560.56,224.74 L562.01,225.18 L563.47,225.62 L564.92,226.06 L566.38,226.50 L567.83,226.93 L569.29,227.37 L570.74,227.80 L572.20,228.23 L573.66,228.67 L575.11,229.10 L576.57,229.53 L578.02,229.95 L579.48,230.38 L580.93,230.81 L582.39,231.23 L583.84,231.66 L585.30,232.08 L586.75,232.50 L588.21,232.92 L589.67,233.34 L591.12,233.76 L592.58,234.18 L594.03,234.59 L595.49,235.01 L596.94,235.42 L598.40,235.84 L599.85,236.25 L601.31,236.66 L602.76,237.07 L604.22,237.48 L605.67,237.88 L607.13,238.29 L608.59,238.70 L610.04,239.10 L611.50,239.50 L612.95,239.90 L614.41,240.31 L615.86,240.70 L617.32,241.10 L618.77,241.50 L620.23,241.90 L621.68,242.29 L623.14,242.69 L624.59,243.08 L626.05,243.47 L627.51,243.86 L628.96,244.25 L630.42,244.64 L631.87,245.03 L633.33,245.42 L634.78,245.80 L636.24,246.19 L637.69,246.57 L639.15,246.95 L640.60,247.33 L642.06,247.71 L643.52,248.09 L644.97,248.47 L646.43,248.85 L647.88,249.23 L649.34,249.60 L650.79,249.97 L652.25,250.35 L653.70,250.72 L655.16,251.09 L656.61,251.46 L658.07,251.83 L659.52,252.20 L660.98,252.56 L662.44,252.93 L663.89,253.29 L665.35,253.66 L666.83,254.03 L668.31,254.40 L669.79,254.76 L671.28,255.13 L672.76,255.50 L674.24,255.86 L674.41,255.90" stroke="#d62728" stroke-width="2.635" stroke-dasharray="9.753,4.217"/>
<path d="M138.60,-1.00 L138.68,0.75 L138.77,2.52 L138.85,4.27 L138.93,6.01 L139.01,7.73 L139.09,9.44 L139.18,11.14 L139.26,12.82 L139.34,14.50 L139.42,16.16 L139.51,17.80 L139.59,19.44 L139.67,21.06 L139.75,22.67 L139.84,24.27 L139.92,25.85 L140.00,27.43 L140.08,28.99 L140.17,30.54 L140.25,32.08 L140.33,33.60 L140.41,35.12 L140.50,36.62 L140.61,38.61 L140.71,40.57 L140.82,42.52 L140.93,44.44 L141.04,46.35 L141.15,48.23 L141.26,50.10 L141.37,51.95 L141.48,53.77 L141.59,55.58 L141.70,57.37 L141.81,59.15 L141.92,60.90 L142.03,62.64 L142.14,64.35 L142.25,66.05 L142.36,67.74 L142.47,69.40 L142.58,71.05 L142.69,72.68 L142.80,74.29 L142.91,75.89 L143.02,77.47 L143.13,79.03 L143.24,80.58 L143.35,82.11 L143.46,83.62 L143.57,85.12 L143.71,86.97 L143.85,88.80 L143.98,90.60 L144.12,92.38 L144.26,94.14 L144.39,95.87 L144.53,97.58 L144.67,99.26 L144.81,100.93 L144.94,102.57 L145.08,104.18 L145.22,105.78 L145.36,107.36 L145.49,108.91 L145.63,110.44 L145.77,111.96 L145.93,113.75 L146.10,115.50 L146.26,117.23 L146.43,118.93 L146.59,120.61 L146.76,122.25 L146.92,123.87 L147.09,125.46 L147.25,127.03 L147.42,128.57 L147.58,130.08 L147.77,131.81 L147.96,133.51 L148.16,135.18 L148.35,136.81 L148.54,138.41 L148.73,139.98 L148.93,141.51 L149.12,143.02 L149.34,144.70 L149.56,146.34 L149.78,147.95 L150.00,149.51 L150.22,151.04 L150.44,152.54 L150.68,154.18 L150.93,155.77 L151.18,157.32 L151.42,158.83 L151.70,160.45 L151.97,162.03 L152.25,163.55 L152.52,165.03 L152.82,166.60 L153.13,168.12 L153.46,169.71 L153.79,171.24 L154.12,172.71 L154.47,174.24 L154.86,175.80 L155.24,177.29 L155.65,178.81 L156.09,180.34 L156.53,181.77 L157.00,183.20 L157.52,184.69 L158.07,186.14 L158.65,187.53 L159.28,188.92 L159.96,190.26 L160.73,191.57 L161.58,192.81 L162.57,193.99 L163.70,195.01 L164.99,195.81 L166.45,196.27 L167.96,196.32 L169.44,196.00 L170.84,195.40 L172.13,194.63 L173.34,193.74 L174.49,192.75 L175.59,191.70 L176.63,190.62 L177.65,189.49 L178.64,188.33 L179.60,187.14 L180.53,185.95 L181.47,184.72 L182.37,183.49 L183.25,182.27 L184.13,181.03 L185.01,179.77 L185.86,178.54 L186.71,177.28 L187.56,176.02 L188.41,174.75 L189.26,173.47 L190.12,172.19 L190.97,170.90 L191.82,169.61 L192.67,168.31 L193.52,167.02 L194.37,165.73 L195.22,164.45 L196.08,163.17 L196.93,161.89 L197.78,160.62 L198.63,159.36 L199.48,158.10 L200.33,156.86 L201.18,155.62 L202.06,154.36 L202.94,153.10 L203.82,151.86 L204.70,150.63 L205.58,149.42 L206.48,148.18 L207.39,146.95 L208.29,145.74 L209.23,144.51 L210.16,143.30 L211.10,142.10 L212.03,140.92 L212.99,139.73 L213.95,138.55 L214.91,137.40 L215.90,136.23 L216.89,135.08 L217.91,133.92 L218.92,132.79 L219.94,131.67 L220.98,130.55 L222.03,129.45 L223.10,128.35 L224.17,127.27 L225.24,126.21 L226.34,125.16 L227.43,124.13 L228.56,123.10 L229.69,122.09 L230.84,121.09 L231.99,120.11 L233.17,119.14 L234.35,118.20 L235.56,117.26 L236.77,116.36 L238.01,115.46 L239.24,114.59 L240.51,113.72 L241.77,112.89 L243.06,112.07 L244.35,111.28 L245.67,110.51 L246.99,109.76 L248.30,109.04 L249.65,108.34 L251.00,107.67 L252.37,107.01 L253.74,106.38 L255.14,105.77 L256.54,105.19 L257.94,104.64 L259.37,104.10 L260.80,103.60 L262.23,103.12 L263.68,102.66 L265.14,102.23 L266.59,101.83 L268.05,101.45 L269.53,101.09 L271.01,100.76 L272.50,100.45 L273.98,100.17 L275.46,99.91 L276.95,99.68 L278.46,99.46 L279.97,99.27 L281.48,99.10 L282.99,98.96 L284.50,98.83 L286.01,98.73 L287.52,98.64 L289.03,98.58 L290.54,98.53 L292.05,98.51 L293.56,98.50 L295.07,98.51 L296.58,98.53 L298.09,98.58 L299.60,98.64 L301.11,98.71 L302.62,98.80 L304.13,98.91 L305.64,99.03 L307.15,99.16 L308.66,99.31 L310.17,99.47 L311.68,99.65 L313.19,99.83 L314.70,100.03 L316.21,100.24 L317.72,100.46 L319.21,100.69 L320.69,100.93 L322.17,101.18 L323.66,101.44 L325.14,101.71 L326.62,101.98 L328.10,102.27 L329.59,102.57 L331.07,102.87 L332.55,103.18 L334.04,103.50 L335.52,103.83 L337.00,104.17 L338.48,104.51 L339.97,104.86 L341.45,105.21 L342.93,105.58 L344.42,105.95 L345.87,106.31 L347.33,106.69 L348.78,107.07 L350.24,107.45 L351.69,107.84 L353.15,108.24 L354.60,108.64 L356.06,109.04 L357.51,109.45 L358.97,109.87 L360.43,110.29 L361.88,110.71 L363.34,111.13 L364.79,111.56 L366.25,112.00 L367.70,112.44 L369.16,112.88 L370.61,113.32 L372.07,113.77 L373.52,114.22 L374.98,114.67 L376.44,115.13 L377.89,115.59 L379.35,116.05 L380.80,116.52 L382.26,116.98 L383.68,117.45 L385.11,117.91 L386.54,118.37 L387.97,118.84 L389.40,119.31 L390.82,119.78 L392.25,120.25 L393.68,120.73 L395.11,121.20 L396.54,121.68 L397.96,122.16 L399.39,122.64 L400.82,123.12 L402.25,123.60 L403.68,124.09 L405.10,124.57 L406.53,125.06 L407.96,125.55 L409.39,126.03 L410.82,126.52 L412.24,127.01 L413.67,127.50 L415.10,128.00 L416.53,128.49 L417.96,128.98 L419.38,129.47 L420.81,129.97 L422.24,130.46 L423.67,130.96 L425.09,131.45 L426.52,131.95 L427.95,132.44 L429.38,132.94 L430.81,133.44 L432.23,133.93 L433.66,134.43 L435.09,134.93 L436.52,135.42 L437.95,135.92 L439.37,136.42 L440.80,136.91 L442.23,137.41 L443.66,137.91 L445.09,138.40 L446.51,138.90 L447.94,139.40 L449.37,139.89 L450.80,140.39 L452.23,140.89 L453.65,141.38 L455.08,141.88 L456.51,142.37 L457.94,142.86 L459.37,143.36 L460.79,143.85 L462.22,144.34 L463.65,144.84 L465.08,145.33 L466.51,145.82 L467.93,146.31 L469.36,146.80 L470.79,147.29 L472.22,147.78 L473.64,148.27 L475.07,148.76 L476.50,149.25 L477.93,149.73 L479.36,150.22 L480.78,150.71 L482.21,151.19 L483.64,151.67 L485.07,152.16 L486.50,152.64 L487.92,153.12 L489.35,153.60 L490.78,154.08 L492.21,154.56 L493.64,155.04 L495.06,155.52 L496.49,156.00 L497.92,156.48 L499.35,156.95 L500.78,157.43 L502.20,157.90 L503.63,158.37 L505.06,158.84 L506.49,159.32 L507.92,159.79 L509.34,160.26 L510.77,160.72 L512.20,161.19 L513.63,161.66 L515.06,162.12 L516.48,162.59 L517.91,163.05 L519.34,163.52 L520.77,163.98 L522.19,164.44 L523.62,164.90 L525.08,165.37 L526.53,165.83 L527.99,166.30 L529.44,166.76 L530.90,167.23 L532.36,167.69 L533.81,168.15 L535.27,168.61 L536.72,169.07 L538.18,169.53 L539.63,169.99 L541.09,170.44 L542.54,170.90 L544.00,171.35 L545.45,171.81 L546.91,172.26 L548.36,172.71 L549.82,173.16 L551.28,173.61 L552.73,174.06 L554.19,174.50 L555.64,174.95 L557.10,175.39 L558.55,175.84 L560.01,176.28 L561.46,176.72 L562.92,177.16 L564.37,177.60 L565.83,178.04 L567.28,178.47 L568.74,178.91 L570.20,179.34 L571.65,179.78 L573.11,180.21 L574.56,180.64 L576.02,181.07 L577.47,181.50 L578.93,181.92 L580.38,182.35 L581.84,182.78 L583.29,183.20 L584.75,183.62 L586.21,184.05 L587.66,184.47 L589.12,184.89 L590.57,185.31 L592.03,185.72 L593.48,186.14 L594.94,186.56 L596.39,186.97 L597.85,187.38 L599.30,187.80 L600.76,188.21 L602.21,188.62 L603.67,189.03 L605.13,189.43 L606.58,189.84 L608.04,190.25 L609.49,190.65 L610.95,191.05 L612.40,191.46 L613.86,191.86 L615.31,192.26 L616.77,192.66 L618.22,193.05 L619.68,193.45 L621.13,193.85 L622.59,194.24 L624.05,194.64 L625.50,195.03 L626.96,195.42 L628.41,195.81 L629.87,196.20 L631.32,196.59 L632.78,196.97 L634.23,197.36 L635.69,197.75 L637.14,198.13 L638.60,198.51 L640.06,198.89 L641.51,199.27 L642.97,199.65 L644.42,200.03 L645.88,200.41 L647.33,200.79 L648.79,201.16 L650.24,201.54 L651.70,201.91 L653.15,202.28 L654.61,202.65 L656.06,203.02 L657.52,203.39 L658.98,203.76 L660.43,204.13 L661.89,204.50 L663.34,204.86 L664.80,205.22 L666.25,205.59 L667.74,205.96 L669.22,206.32 L670.70,206.69 L672.18,207.06 L673.67,207.42 L674.41,207.60" stroke="#9467bd" stroke-width="1.978"/>
<path d="M86.0,245.65 L674.4,245.65" stroke="#000" stroke-width="1.978" stroke-dasharray="7.318,3.165"/>
</g>
<path d="M86.00,464.7 V460.70 M86.00,25.9 V29.90 M110.52,464.7 V460.70 M110.52,25.9 V29.90 M135.03,464.7 V460.70 M135.03,25.9 V29.90 M159.55,464.7 V460.70 M159.55,25.9 V29.90 M208.58,464.7 V460.70 M208.58,25.9 V29.90 M233.10,464.7 V460.70 M233.10,25.9 V29.90 M257.62,464.7 V460.70 M257.62,25.9 V29.90 M282.14,464.7 V460.70 M282.14,25.9 V29.90 M331.17,464.7 V460.70 M331.17,25.9 V29.90 M355.69,464.7 V460.70 M355.69,25.9 V29.90 M380.20,464.7 V460.70 M380.20,25.9 V29.90 M404.72,464.7 V460.70 M404.72,25.9 V29.90 M453.75,464.7 V460.70 M453.75,25.9 V29.90 M478.27,464.7 V460.70 M478.27,25.9 V29.90 M502.79,464.7 V460.70 M502.79,25.9 V29.90 M527.31,464.7 V460.70 M527.31,25.9 V29.90 M576.34,464.7 V460.70 M576.34,25.9 V29.90 M600.86,464.7 V460.70 M600.86,25.9 V29.90 M625.37,464.7 V460.70 M625.37,25.9 V29.90 M649.89,464.7 V460.70 M649.89,25.9 V29.90 M86.0,446.68 H90.00 M674.4,446.68 H670.40 M86.0,428.40 H90.00 M674.4,428.40 H670.40 M86.0,410.12 H90.00 M674.4,410.12 H670.40 M86.0,373.58 H90.00 M674.4,373.58 H670.40 M86.0,355.30 H90.00 M674.4,355.30 H670.40 M86.0,337.02 H90.00 M674.4,337.02 H670.40 M86.0,300.48 H90.00 M674.4,300.48 H670.40 M86.0,282.20 H90.00 M674.4,282.20 H670.40 M86.0,263.93 H90.00 M674.4,263.93 H670.40 M86.0,227.38 H90.00 M674.4,227.38 H670.40 M86.0,209.10 H90.00 M674.4,209.10 H670.40 M86.0,190.83 H90.00 M674.4,190.83 H670.40 M86.0,154.28 H90.00 M674.4,154.28 H670.40 M86.0,136.00 H90.00 M674.4,136.00 H670.40 M86.0,117.72 H90.00 M674.4,117.72 H670.40 M86.0,81.18 H90.00 M674.4,81.18 H670.40 M86.0,62.90 H90.00 M674.4,62.90 H670.40 M86.0,44.62 H90.00 M674.4,44.62 H670.40" stroke="#000" stroke-width="1.3" fill="none"/>
<path d="M184.07,464.7 V456.90 M184.07,25.9 V33.70 M306.65,464.7 V456.90 M306.65,25.9 V33.70 M429.24,464.7 V456.90 M429.24,25.9 V33.70 M551.82,464.7 V456.90 M551.82,25.9 V33.70 M674.41,464.7 V456.90 M674.41,25.9 V33.70 M86.0,464.95 H93.80 M674.4,464.95 H666.60 M86.0,391.85 H93.80 M674.4,391.85 H666.60 M86.0,318.75 H93.80 M674.4,318.75 H666.60 M86.0,245.65 H93.80 M674.4,245.65 H666.60 M86.0,172.55 H93.80 M674.4,172.55 H666.60 M86.0,99.45 H93.80 M674.4,99.45 H666.60 M86.0,26.35 H93.80 M674.4,26.35 H666.60" stroke="#000" stroke-width="1.9" fill="none"/>
<rect x="86.0" y="25.9" width="588.40" height="438.80" fill="none" stroke="#111" stroke-width="1.5"/>
<text transform="scale(1.0462,1)" font-size="15.80"><tspan x="44.35 53.61 58.48 67.91" y="32.10">0.06</tspan></text>
<text transform="scale(1.0342,1)" font-size="15.80"><tspan x="44.81 54.16 59.11 68.65" y="105.20">0.04</tspan></text>
<text transform="scale(1.0217,1)" font-size="15.80"><tspan x="46.08 55.51 60.55 70.01" y="178.30">0.02</tspan></text>
<text transform="scale(1.0341,1)" font-size="15.80"><tspan x="44.97 54.31 59.27 68.80" y="251.40">0.00</tspan></text>
<text transform="scale(1.0217,1)" font-size="15.80"><tspan x="46.08 55.51 60.55 70.01" y="324.50">0.02</tspan></text>
<rect x="34.9" y="319.15" width="9.3" height="1.4" fill="#000"/>
<text transform="scale(1.0342,1)" font-size="15.80"><tspan x="44.81 54.16 59.11 68.65" y="397.60">0.04</tspan></text>
<rect x="34.9" y="392.25" width="9.3" height="1.4" fill="#000"/>
<text transform="scale(1.0462,1)" font-size="15.80"><tspan x="44.35 53.61 58.48 67.91" y="470.70">0.06</tspan></text>
<rect x="34.9" y="465.35" width="9.3" height="1.4" fill="#000"/>
<text transform="scale(0.9760,1)" font-size="15.80"><tspan x="184.43" y="481.30">5</tspan></text>
<text transform="scale(1.0109,1)" font-size="15.80"><tspan x="293.86 303.69" y="481.30">10</tspan></text>
<text transform="scale(0.9818,1)" font-size="15.80"><tspan x="427.72 437.78" y="481.30">15</tspan></text>
<text transform="scale(1.0155,1)" font-size="15.80"><tspan x="534.12 544.03" y="481.30">20</tspan></text>
<text transform="scale(0.9864,1)" font-size="15.80"><tspan x="674.44 684.58" y="481.30">25</tspan></text>
<text transform="scale(1.0229,1)" font-size="19.00"><tspan x="307.49 333.00 344.41 350.37 361.58" y="17.80">k1.5,</tspan><tspan x="366.91" y="17.80" font-style="italic">Q</tspan><tspan x="381.38" y="20.10" font-style="italic" font-size="13.30">m</tspan><tspan x="409.74 421.06 427.02" y="17.80">0.5</tspan></text><text transform="matrix(1.2613,0,0,0.8573,325.42,17.34)" font-size="19.00" x="0" y="0">=</text><text transform="matrix(1.2613,0,0,0.8573,403.82,17.34)" font-size="19.00" x="0" y="0">=</text>
<text transform="translate(380.2,503.5) scale(1.18,1)" font-size="18.4" font-style="italic" text-anchor="middle" style="stroke-width:0.25px">r</text>
<g transform="translate(21.9,253.6) rotate(-90)"><text transform="scale(1.12,1)" x="0" y="0" font-size="20" font-style="italic" style="stroke-width:0.25px">r</text><text x="8.7" y="-7.6" font-size="14.2" style="stroke-width:0.25px">2</text></g>
<circle cx="4.8" cy="248.8" r="1.25" fill="#000"/>
<rect x="555.6" y="32.8" width="111.7" height="100.3" rx="2.6" ry="2.6" fill="#fff" fill-opacity="0.8" stroke="#cccccc" stroke-width="1.1"/>
<path d="M560.9,43.1 H587.1" stroke="#1f77b4" stroke-width="1.978" stroke-linecap="square" fill="none"/>
<text transform="scale(1.0274,1)" font-size="13.20" style="stroke-width:0.2px"><tspan x="581.45" y="47.70" font-style="italic">E</tspan><tspan x="601.10 609.03 613.25 621.42" y="47.70">0.94</tspan></text><text transform="matrix(1.2816,0,0,0.8711,606.71,47.37)" font-size="13.20" x="0" y="0" style="stroke-width:0.2px">=</text>
<path d="M560.9,62.6 H587.1" stroke="#ff7f0e" stroke-width="2.635" stroke-dasharray="9.753,4.217" fill="none"/>
<text transform="scale(1.0183,1)" font-size="13.20" style="stroke-width:0.2px"><tspan x="586.68" y="67.20" font-style="italic">E</tspan><tspan x="606.49 614.47 618.75 626.94 635.20 643.23" y="67.20">0.9542</tspan></text><text transform="matrix(1.2816,0,0,0.8711,606.71,66.87)" font-size="13.20" x="0" y="0" style="stroke-width:0.2px">=</text>
<path d="M560.9,82.1 H587.1" stroke="#2ca02c" stroke-width="1.978" stroke-linecap="square" fill="none"/>
<text transform="scale(1.0365,1)" font-size="13.20" style="stroke-width:0.2px"><tspan x="576.28" y="86.70" font-style="italic">E</tspan><tspan x="595.76 603.64 607.81 615.91" y="86.70">0.96</tspan></text><text transform="matrix(1.2816,0,0,0.8711,606.71,86.37)" font-size="13.20" x="0" y="0" style="stroke-width:0.2px">=</text>
<path d="M560.9,101.6 H587.1" stroke="#d62728" stroke-width="2.635" stroke-dasharray="9.753,4.217" fill="none"/>
<text transform="scale(1.0361,1)" font-size="13.20" style="stroke-width:0.2px"><tspan x="576.51" y="106.20" font-style="italic">E</tspan><tspan x="596.00 603.88 608.05 616.15 624.21 632.11" y="106.20">0.9682</tspan></text><text transform="matrix(1.2816,0,0,0.8711,606.71,105.87)" font-size="13.20" x="0" y="0" style="stroke-width:0.2px">=</text>
<path d="M560.9,121.1 H587.1" stroke="#9467bd" stroke-width="1.978" stroke-linecap="square" fill="none"/>
<text transform="scale(1.0152,1)" font-size="13.20" style="stroke-width:0.2px"><tspan x="588.47" y="125.70" font-style="italic">E</tspan><tspan x="608.34 616.34 620.64 628.88 637.08" y="125.70">0.975</tspan></text><text transform="matrix(1.2816,0,0,0.8711,606.71,125.37)" font-size="13.20" x="0" y="0" style="stroke-width:0.2px">=</text>
</svg></body></html>
